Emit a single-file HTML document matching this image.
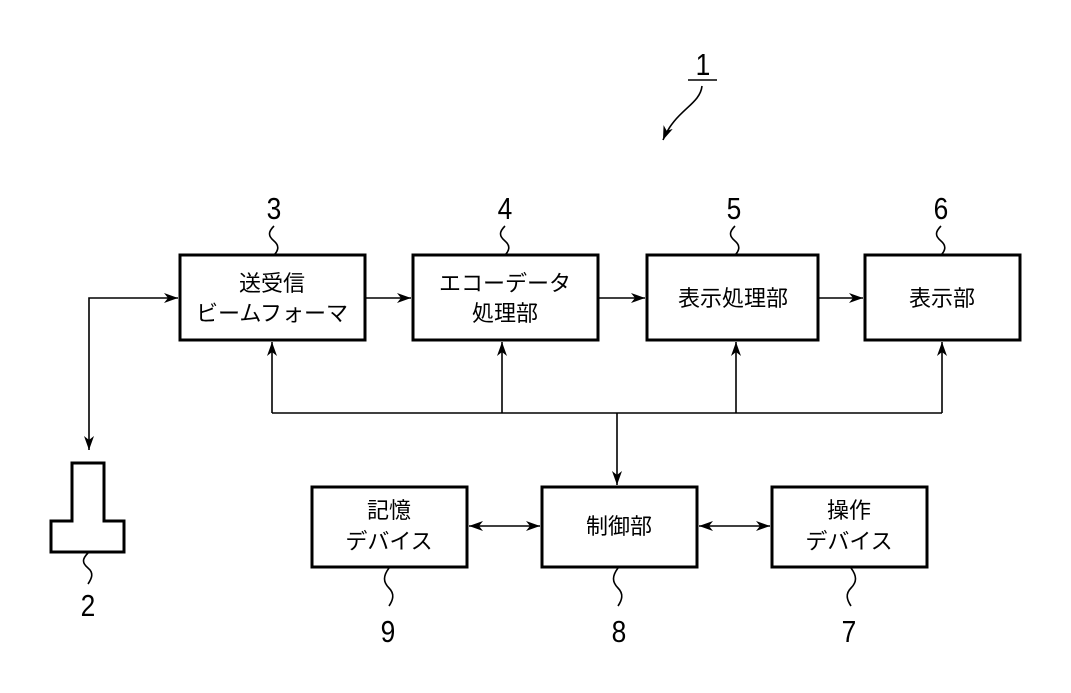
<!DOCTYPE html>
<html><head><meta charset="utf-8"><style>
html,body{margin:0;padding:0;background:#fff;}
svg{display:block;}
text{font-family:"Liberation Sans","Noto Sans CJK JP",sans-serif;fill:#000;}
.j{font-size:22px;}
.n{font-size:31px;}
</style></head><body>
<svg width="1071" height="693" viewBox="0 0 1071 693" xmlns="http://www.w3.org/2000/svg">
<defs>
<marker id="a" viewBox="0 0 14 10" refX="14" refY="5" markerWidth="14" markerHeight="10" markerUnits="userSpaceOnUse" orient="auto-start-reverse">
<path d="M0,0 L14,5 L0,10 L4,5 Z" fill="#000"/>
</marker>
</defs>
<g fill="none" stroke="#000" stroke-width="3">
<rect x="180" y="255" width="185" height="85"/>
<rect x="413" y="255" width="185" height="85"/>
<rect x="647" y="255" width="171" height="85"/>
<rect x="865" y="255" width="155" height="85"/>
<rect x="312" y="487" width="155" height="80"/>
<rect x="542" y="487" width="155" height="80"/>
<rect x="772" y="487" width="155" height="80"/>
<path d="M72,463 H104 V521 H124 V552 H51 V521 H72 Z"/>
</g>
<g fill="none" stroke="#000" stroke-width="1.6">
<path d="M89,450 V298 H178" marker-start="url(#a)" marker-end="url(#a)"/>
<path d="M365,298 H411" marker-end="url(#a)"/>
<path d="M598,298 H645" marker-end="url(#a)"/>
<path d="M818,298 H863" marker-end="url(#a)"/>
<path d="M272,413 H942"/>
<path d="M272,413 V342" marker-end="url(#a)"/>
<path d="M502,413 V342" marker-end="url(#a)"/>
<path d="M736,413 V342" marker-end="url(#a)"/>
<path d="M942,413 V342" marker-end="url(#a)"/>
<path d="M617,413 V485" marker-end="url(#a)"/>
<path d="M469,526 H540" marker-start="url(#a)" marker-end="url(#a)"/>
<path d="M699,526 H770" marker-start="url(#a)" marker-end="url(#a)"/>
<path d="M688,80 H717"/>
<path d="M702,86 C700,105 675,110 663,140" marker-end="url(#a)"/>
<!-- squiggles -->
<path d="M274,226 c-6,6 -6,10 0,15 c6,5 4,10 0,14"/>
<path d="M505,226 c-6,6 -6,10 0,15 c6,5 4,10 0,14"/>
<path d="M735,226 c-6,6 -6,10 0,15 c6,5 4,10 0,14"/>
<path d="M941,226 c-6,6 -6,10 0,15 c6,5 4,10 0,14"/>
<path d="M88,553 c-6,6 -6,10 0,15 c6,5 4,10 0,16"/>
<path d="M389,568 c-6,8 -6,14 0,20 c6,6 4,12 0,18"/>
<path d="M618,568 c-6,8 -6,14 0,20 c6,6 4,12 0,18"/>
<path d="M851,568 c6,8 6,14 0,20 c-6,6 -4,12 0,18"/>
</g>
<g class="n" text-anchor="middle">
<text x="703" y="75" transform="translate(703 0) scale(0.85 1) translate(-703 0)">1</text>
<text x="274" y="219" transform="translate(274 0) scale(0.85 1) translate(-274 0)">3</text>
<text x="505" y="219" transform="translate(505 0) scale(0.85 1) translate(-505 0)">4</text>
<text x="734" y="219" transform="translate(734 0) scale(0.85 1) translate(-734 0)">5</text>
<text x="941" y="219" transform="translate(941 0) scale(0.85 1) translate(-941 0)">6</text>
<text x="88" y="616" transform="translate(88 0) scale(0.85 1) translate(-88 0)">2</text>
<text x="388" y="642" transform="translate(388 0) scale(0.85 1) translate(-388 0)">9</text>
<text x="619" y="642" transform="translate(619 0) scale(0.85 1) translate(-619 0)">8</text>
<text x="849" y="642" transform="translate(849 0) scale(0.85 1) translate(-849 0)">7</text>
</g>
<g class="j" text-anchor="middle">
<text x="272" y="291">送受信</text>
<text x="272" y="321">ビームフォーマ</text>
<text x="505" y="291">エコーデータ</text>
<text x="505" y="321">処理部</text>
<text x="733" y="306">表示処理部</text>
<text x="942" y="306">表示部</text>
<text x="389" y="518">記憶</text>
<text x="389" y="549">デバイス</text>
<text x="619" y="534">制御部</text>
<text x="849" y="518">操作</text>
<text x="849" y="549">デバイス</text>
</g>
</svg>
</body></html>
